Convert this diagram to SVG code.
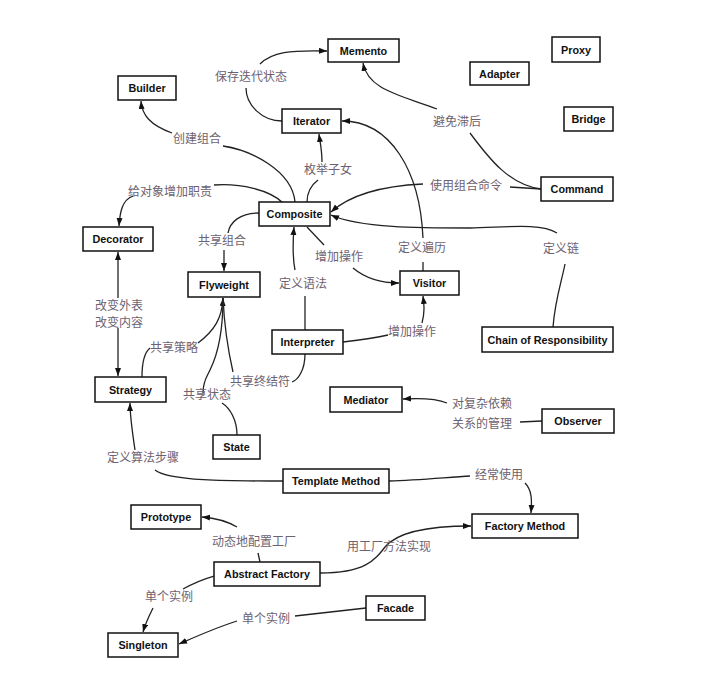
<svg xmlns="http://www.w3.org/2000/svg" width="717" height="699" viewBox="0 0 717 699">
<style>
.n rect{fill:#fff;stroke:#111;stroke-width:1.5}
.n text{font-family:"Liberation Sans",Arial,sans-serif;font-weight:bold;font-size:10.8px;fill:#111;text-anchor:middle}
.l{font-family:"Noto Sans CJK SC","Noto Sans CJK JP",sans-serif;font-size:12px;fill:#6e6270}
.c path{fill:none;stroke:#222;stroke-width:1.3}
.a{marker-end:url(#ah)}
</style>
<defs>
<marker id="ah" markerUnits="userSpaceOnUse" markerWidth="9" markerHeight="7" refX="8" refY="3" orient="auto-start-reverse"><path d="M0,0 L8,3 L0,6 z" fill="#111"/></marker>
</defs>
<rect width="717" height="699" fill="#fff"/>
<g class="c" id="connectors">
<path d="M282,121 C262,121 246,105 246,88"/>
<path class="a" d="M260,64 C272,52 290,50 327,51"/>
<path d="M295,202 C292,170 250,150 223,146"/>
<path class="a" d="M172,133 C150,125 142,115 141,101"/>
<path d="M307,202 C307,190 314,183 318,180"/>
<path class="a" d="M322,162 C322,150 320,142 319,134"/>
<path d="M283,203 C270,190 240,183 214,185"/>
<path class="a" d="M133,196 C122,200 120,212 119,226"/>
<path d="M541,189 C510,185 490,160 470,133"/>
<path class="a" d="M437,109 C400,95 368,90 363,63"/>
<path d="M541,189 L510,187"/>
<path class="a" d="M423,184 C380,186 350,195 331,212"/>
<path d="M423,271 L423,262"/>
<path class="a" d="M423,238 C420,170 390,121 342,121"/>
<path d="M553,327 C555,300 562,280 565,264"/>
<path class="a" d="M557,233 C540,222 500,228 470,228 C420,228 360,228 331,215"/>
<path d="M307,227 L324,245"/>
<path class="a" d="M353,268 C365,278 380,283 399,283"/>
<path d="M305,330 L305,296"/>
<path class="a" d="M295,270 C292,255 293,240 294,227"/>
<path d="M343,342 C360,340 375,338 388,335"/>
<path class="a" d="M422,323 C425,312 424,305 423,296"/>
<path d="M259,213 C240,213 230,222 228,233"/>
<path class="a" d="M224,250 L224,271"/>
<path style="marker-start:url(#ah)" d="M118,252 L118,298"/>
<path class="a" d="M118,328 L118,376"/>
<path d="M142,377 C142,360 145,352 150,348"/>
<path class="a" d="M198,343 C215,330 222,318 223,298"/>
<path d="M237,435 C237,420 230,408 222,403"/>
<path d="M203,393 C203,380 208,375 210,370 C220,350 223,320 223,298"/>
<path d="M305,354 C305,370 298,380 292,382"/>
<path d="M233,372 C228,350 224,320 223,298"/>
<path d="M542,421 L520,422"/>
<path class="a" d="M447,403 C435,398 420,398 403,399"/>
<path d="M283,481 C240,481 170,482 155,470"/>
<path class="a" d="M135,450 C132,430 130,415 130,403"/>
<path d="M389,481 C420,480 450,477 470,476"/>
<path class="a" d="M525,483 C532,490 532,500 531,513"/>
<path d="M260,562 L258,553"/>
<path class="a" d="M237,527 C225,520 215,518 202,517"/>
<path class="a" d="M320,573 C365,573 375,560 385,547 C395,535 420,526 471,526"/>
<path d="M214,576 C200,580 190,585 183,589"/>
<path class="a" d="M153,608 C148,618 145,625 143,632"/>
<path d="M366,608 L295,616"/>
<path class="a" d="M237,621 C215,628 195,637 179,644"/>
</g>
<g id="labels">
<text class="l" x="215" y="81">保存迭代状态</text>
<text class="l" x="173" y="143">创建组合</text>
<text class="l" x="304" y="174">枚举子女</text>
<text class="l" x="128" y="196">给对象增加职责</text>
<text class="l" x="433" y="126">避免滞后</text>
<text class="l" x="430" y="190">使用组合命令</text>
<text class="l" x="198" y="245">共享组合</text>
<text class="l" x="279" y="288">定义语法</text>
<text class="l" x="315" y="261">增加操作</text>
<text class="l" x="398" y="252">定义遍历</text>
<text class="l" x="543" y="253">定义链</text>
<text class="l" x="388" y="336">增加操作</text>
<text class="l" x="95" y="310">改变外表</text>
<text class="l" x="95" y="327">改变内容</text>
<text class="l" x="150" y="352">共享策略</text>
<text class="l" x="230" y="386">共享终结符</text>
<text class="l" x="183" y="399">共享状态</text>
<text class="l" x="452" y="408">对复杂依赖</text>
<text class="l" x="452" y="428">关系的管理</text>
<text class="l" x="107" y="462">定义算法步骤</text>
<text class="l" x="475" y="479">经常使用</text>
<text class="l" x="212" y="546">动态地配置工厂</text>
<text class="l" x="347" y="551">用工厂方法实现</text>
<text class="l" x="145" y="601">单个实例</text>
<text class="l" x="242" y="623">单个实例</text>
</g>
<g class="n" id="memento"><rect x="328" y="39" width="71" height="23"/><text x="363.5" y="54.5">Memento</text></g>
<g class="n" id="proxy"><rect x="552" y="37" width="48" height="25"/><text x="576" y="53.5">Proxy</text></g>
<g class="n" id="adapter"><rect x="470" y="62" width="59" height="23"/><text x="499.5" y="77.5">Adapter</text></g>
<g class="n" id="bridge"><rect x="564" y="107" width="49" height="24"/><text x="588.5" y="123">Bridge</text></g>
<g class="n" id="builder"><rect x="118" y="76" width="58" height="24"/><text x="147" y="92">Builder</text></g>
<g class="n" id="iterator"><rect x="282" y="109" width="59" height="24"/><text x="311.5" y="125">Iterator</text></g>
<g class="n" id="command"><rect x="541" y="177" width="72" height="24"/><text x="577" y="193">Command</text></g>
<g class="n" id="composite"><rect x="259" y="202" width="71" height="24"/><text x="294.5" y="218">Composite</text></g>
<g class="n" id="decorator"><rect x="83" y="227" width="70" height="24"/><text x="118" y="243">Decorator</text></g>
<g class="n" id="flyweight"><rect x="188" y="272" width="72" height="25"/><text x="224" y="288.5">Flyweight</text></g>
<g class="n" id="visitor"><rect x="400" y="271" width="59" height="24"/><text x="429.5" y="287">Visitor</text></g>
<g class="n" id="interpreter"><rect x="272" y="330" width="71" height="24"/><text x="307.5" y="346">Interpreter</text></g>
<g class="n" id="chain"><rect x="482" y="327" width="131" height="25"/><text x="547.5" y="343.5">Chain of Responsibility</text></g>
<g class="n" id="strategy"><rect x="95" y="377" width="71" height="25"/><text x="130.5" y="393.5">Strategy</text></g>
<g class="n" id="state"><rect x="213" y="435" width="47" height="24"/><text x="236.5" y="451">State</text></g>
<g class="n" id="mediator"><rect x="330" y="387" width="72" height="25"/><text x="366" y="403.5">Mediator</text></g>
<g class="n" id="observer"><rect x="542" y="409" width="72" height="24"/><text x="578" y="425">Observer</text></g>
<g class="n" id="template-method"><rect x="283" y="469" width="106" height="24"/><text x="336" y="485">Template Method</text></g>
<g class="n" id="factory-method"><rect x="472" y="514" width="106" height="24"/><text x="525" y="530">Factory Method</text></g>
<g class="n" id="prototype"><rect x="131" y="505" width="70" height="24"/><text x="166" y="521">Prototype</text></g>
<g class="n" id="abstract-factory"><rect x="214" y="562" width="106" height="24"/><text x="267" y="578">Abstract Factory</text></g>
<g class="n" id="facade"><rect x="366" y="596" width="59" height="24"/><text x="395.5" y="612">Facade</text></g>
<g class="n" id="singleton"><rect x="108" y="633" width="70" height="24"/><text x="143" y="649">Singleton</text></g>
</svg>
